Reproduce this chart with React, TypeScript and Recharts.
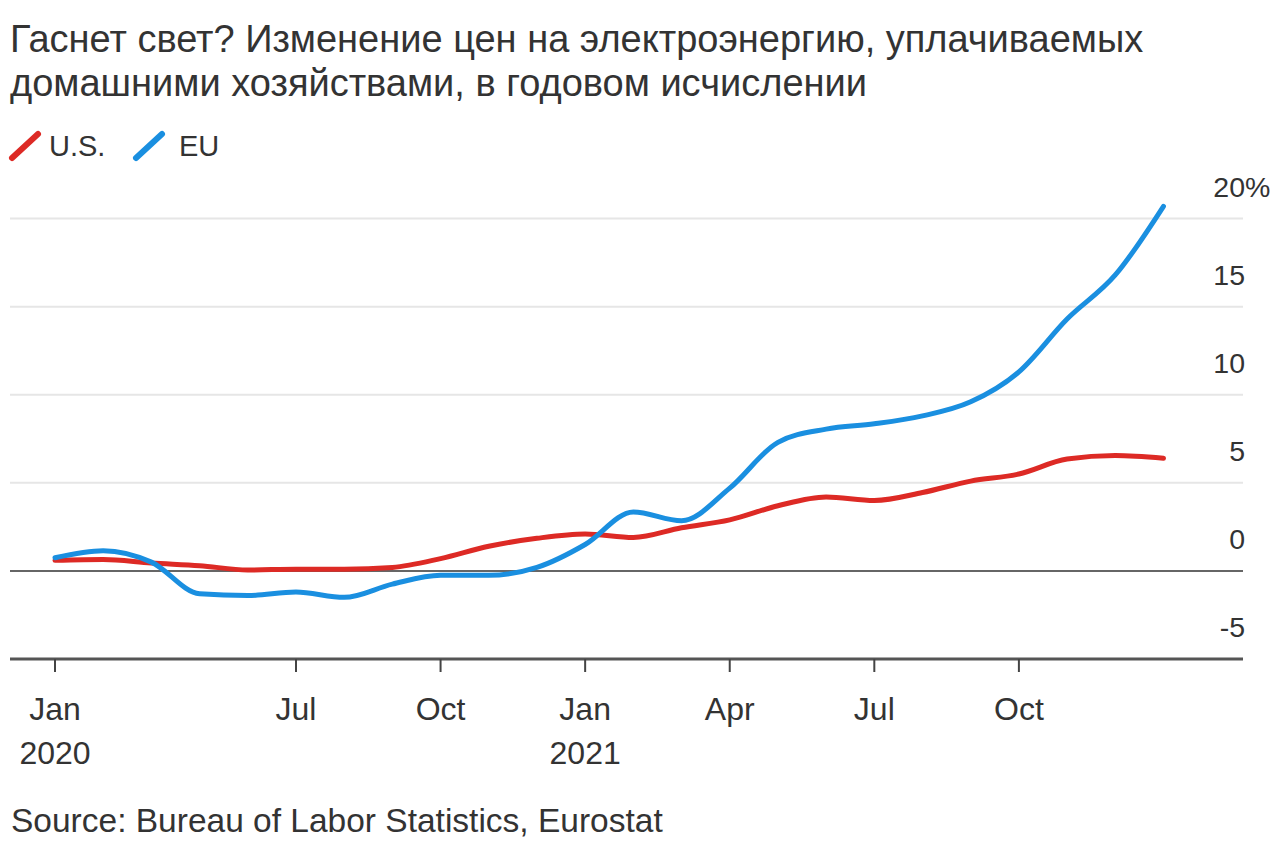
import React from 'react';
import { LineChart, Line, XAxis, YAxis, ReferenceLine } from 'recharts';

// Month index: 1 = first plotted month (labelled "Jan 2020" on the axis)
const monthIndex = [1, 2, 3, 4, 5, 6, 7, 8, 9, 10, 11, 12, 13, 14, 15, 16, 17, 18, 19, 20, 21, 22, 23, 24];
const usValues = [0.6, 0.65, 0.45, 0.3, 0.05, 0.1, 0.1, 0.2, 0.7, 1.4, 1.85, 2.1, 1.9, 2.45, 2.9, 3.7, 4.2, 4.0, 4.45, 5.1, 5.5, 6.35, 6.55, 6.4];
const euValues = [0.75, 1.15, 0.5, -1.3, -1.4, -1.2, -1.5, -0.75, -0.25, -0.25, 0.2, 1.5, 3.35, 2.85, 4.7, 7.3, 8.05, 8.35, 8.8, 9.6, 11.3, 14.3, 16.8, 20.7];

const xTickValues = [1, 6, 9, 12, 15, 18, 21];
const xTickMonths = ['Jan', 'Jul', 'Oct', 'Jan', 'Apr', 'Jul', 'Oct'];
const xTickYears = ['2020', '', '', '2021', '', '', ''];
const yTickValues = [-5, 0, 5, 10, 15, 20];

const seriesNames = ['U.S.', 'EU'];
const seriesColors = ['#dd2a25', '#1a8fe0'];

const titleLines = [
  'Гаснет свет? Изменение цен на электроэнергию, уплачиваемых',
  'домашними хозяйствами, в годовом исчислении',
];
const sourceText = 'Source: Bureau of Labor Statistics, Eurostat';

const data = monthIndex.map((m, i) => ({ m, us: usValues[i], eu: euValues[i] }));

const FONT = '"Liberation Sans", Arial, Helvetica, sans-serif';
const TEXT = '#333333';

const XTick = (props: any) => {
  const { x, y, payload } = props;
  const i = xTickValues.indexOf(payload.value);
  return (
    <g>
      <text x={x} y={y} dy={48} textAnchor="middle" fontFamily={FONT} fontSize={32} fill={TEXT}>
        {xTickMonths[i]}
      </text>
      {xTickYears[i] ? (
        <text x={x} y={y} dy={92} textAnchor="middle" fontFamily={FONT} fontSize={32} fill={TEXT}>
          {xTickYears[i]}
        </text>
      ) : null}
    </g>
  );
};

const YTick = (props: any) => {
  const { x, y, payload } = props;
  const isTop = payload.value === yTickValues[yTickValues.length - 1];
  return (
    <g>
      <text x={x + 1} y={y} dy={-22} textAnchor="end" fontFamily={FONT} fontSize={28.5} fill={TEXT}>
        {String(payload.value)}
      </text>
      {isTop ? (
        <text x={x + 1} y={y} dy={-22} textAnchor="start" fontFamily={FONT} fontSize={28.5} fill={TEXT}>
          %
        </text>
      ) : null}
    </g>
  );
};

const Slash = ({ color, left }: { color: string; left: number }) => (
  <svg width={36} height={34} style={{ position: 'absolute', left, top: 129 }}>
    <line x1={5} y1={29} x2={31} y2={5} stroke={color} strokeWidth={6} strokeLinecap="round" />
  </svg>
);

export default function App() {
  return (
    <div style={{ position: 'absolute', left: 0, top: 0, width: 1280, height: 855, background: '#fff', fontFamily: FONT, color: TEXT }}>
      <div style={{ position: 'absolute', left: 10, top: 17, fontSize: 38, lineHeight: '44px', whiteSpace: 'nowrap' }}>
        {titleLines.map((t) => (
          <div key={t}>{t}</div>
        ))}
      </div>
      <Slash color={seriesColors[0]} left={7} />
      <div style={{ position: 'absolute', left: 49, top: 130, fontSize: 29, lineHeight: '32px' }}>{seriesNames[0]}</div>
      <Slash color={seriesColors[1]} left={131} />
      <div style={{ position: 'absolute', left: 179, top: 130, fontSize: 29, lineHeight: '32px' }}>{seriesNames[1]}</div>

      <div style={{ position: 'absolute', left: 0, top: 0 }}>
        <LineChart width={1280} height={855} data={data} margin={{ top: 201, right: 36, bottom: 86, left: 10 }}>
          {yTickValues
            .filter((v) => v !== 0 && v !== yTickValues[0])
            .map((v) => (
              <ReferenceLine key={v} y={v} stroke="#e6e6e6" strokeWidth={2} />
            ))}
          <XAxis
            dataKey="m"
            type="number"
            domain={[0.066, 25.65]}
            allowDataOverflow
            ticks={xTickValues}
            interval={0}
            height={110}
            tickSize={13}
            tickMargin={0}
            axisLine={{ stroke: '#555', strokeWidth: 3 }}
            tickLine={{ stroke: '#444', strokeWidth: 2 }}
            tick={<XTick />}
          />
          <YAxis
            orientation="right"
            type="number"
            domain={[-5, 21]}
            allowDataOverflow
            ticks={yTickValues}
            interval={0}
            width={1}
            tickSize={0}
            tickMargin={1}
            axisLine={false}
            tickLine={false}
            tick={<YTick />}
          />
          <ReferenceLine y={0} stroke="#666" strokeWidth={2} />
          <Line dataKey="us" type="monotone" stroke={seriesColors[0]} strokeWidth={5} dot={false} strokeLinecap="round" isAnimationActive={false} />
          <Line dataKey="eu" type="monotone" stroke={seriesColors[1]} strokeWidth={5} dot={false} strokeLinecap="round" isAnimationActive={false} />
        </LineChart>
      </div>

      <div style={{ position: 'absolute', left: 11, top: 803, fontSize: 33.5, lineHeight: '36px', whiteSpace: 'nowrap' }}>{sourceText}</div>
    </div>
  );
}
